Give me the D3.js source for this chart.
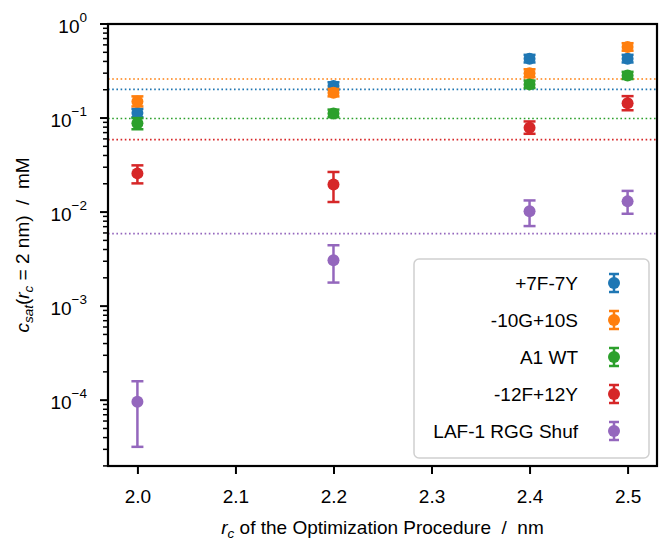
<!DOCTYPE html>
<html>
<head>
<meta charset="utf-8">
<script src="https://cdnjs.cloudflare.com/ajax/libs/d3/7.8.5/d3.min.js"></script>
<style>
body { margin:0; background:#fff; }
svg text { font-family: "Liberation Sans", Arial, sans-serif; fill:#000; white-space: pre; }
</style>
</head>
<body>
<svg id="graph"></svg>
<script>
// r_c values used in the optimization
var rcValues = [2.0, 2.2, 2.4, 2.5];

var seriesNames = ["+7F-7Y", "-10G+10S", "A1 WT", "-12F+12Y", "LAF-1 RGG Shuf"];
var seriesColors = ["#1f77b4", "#ff7f0e", "#2ca02c", "#d62728", "#9467bd"];

// csat values (mM), one array per sequence
var csat7F = [0.113, 0.219, 0.428, 0.428];
var csat10G = [0.150, 0.186, 0.300, 0.570];
var csatWT = [0.088, 0.112, 0.228, 0.284];
var csat12F = [0.0258, 0.0197, 0.079, 0.144];
var csatLAF = [0.000096, 0.00308, 0.0102, 0.0130];

// lower / upper ends of error bars
var low7F = [0.102, 0.200, 0.390, 0.390];
var high7F = [0.125, 0.240, 0.470, 0.470];
var low10G = [0.133, 0.170, 0.272, 0.520];
var high10G = [0.170, 0.204, 0.330, 0.625];
var lowWT = [0.076, 0.102, 0.208, 0.260];
var highWT = [0.100, 0.123, 0.250, 0.310];
var low12F = [0.0202, 0.0128, 0.068, 0.121];
var high12F = [0.0314, 0.0267, 0.092, 0.171];
var lowLAF = [0.0000319, 0.00178, 0.0071, 0.0096];
var highLAF = [0.000159, 0.00444, 0.0133, 0.0168];

// reference csat (dotted lines)
var refCsat = [0.202, 0.26, 0.099, 0.059, 0.0059];

var xTicks = [2.0, 2.1, 2.2, 2.3, 2.4, 2.5];
var yTickExps = [0, -1, -2, -3, -4];

var allValues = [csat7F, csat10G, csatWT, csat12F, csatLAF];
var allLow = [low7F, low10G, lowWT, low12F, lowLAF];
var allHigh = [high7F, high10G, highWT, high12F, highLAF];

var fontSize = 19;

var screen = {width:672, height:551};
var margins = {top:24, bottom:85, left:108, right:15};
var graph = {
    width:screen.width-margins.left-margins.right,
    height:screen.height-margins.top-margins.bottom
};

var svg = d3.select("#graph")
    .attr("width",screen.width)
    .attr("height",screen.height);

var xScale = d3.scaleLinear()
    .domain([1.97,2.53])
    .range([0,graph.width]);

var yScale = d3.scaleLog()
    .domain([Math.pow(10,-4.70),1])
    .range([graph.height,0]);

var g = svg.append("g")
    .attr("transform","translate("+margins.left+","+margins.top+")");

g.append("defs").append("clipPath").attr("id","clip")
    .append("rect").attr("width",graph.width).attr("height",graph.height);

// dotted reference lines
g.append("g").attr("clip-path","url(#clip)")
    .selectAll("line")
    .data(refCsat)
    .enter()
    .append("line")
    .attr("x1",0)
    .attr("x2",graph.width)
    .attr("y1",function(d){ return yScale(d); })
    .attr("y2",function(d){ return yScale(d); })
    .attr("stroke",function(d,i){ return seriesColors[i]; })
    .attr("stroke-width",1.6)
    .attr("stroke-dasharray","1.6,2.6");

// series
allValues.forEach(function(vals,si)
{
    var pts = rcValues.map(function(rc,i){
        return {x:rc, y:vals[i], lo:allLow[si][i], hi:allHigh[si][i]};
    });
    var sg = g.append("g").attr("fill",seriesColors[si]).attr("stroke",seriesColors[si]);
    var eb = sg.selectAll("g.err").data(pts).enter().append("g");
    eb.append("line")
        .attr("x1",function(d){ return xScale(d.x); })
        .attr("x2",function(d){ return xScale(d.x); })
        .attr("y1",function(d){ return yScale(d.lo); })
        .attr("y2",function(d){ return yScale(d.hi); })
        .attr("stroke-width",2.5);
    eb.append("line")
        .attr("x1",function(d){ return xScale(d.x)-6; })
        .attr("x2",function(d){ return xScale(d.x)+6; })
        .attr("y1",function(d){ return yScale(d.lo); })
        .attr("y2",function(d){ return yScale(d.lo); })
        .attr("stroke-width",2.5);
    eb.append("line")
        .attr("x1",function(d){ return xScale(d.x)-6; })
        .attr("x2",function(d){ return xScale(d.x)+6; })
        .attr("y1",function(d){ return yScale(d.hi); })
        .attr("y2",function(d){ return yScale(d.hi); })
        .attr("stroke-width",2.5);
    sg.selectAll("circle").data(pts).enter().append("circle")
        .attr("cx",function(d){ return xScale(d.x); })
        .attr("cy",function(d){ return yScale(d.y); })
        .attr("r",6)
        .attr("stroke","none");
});

// axes
var xAxis = d3.axisBottom(xScale)
    .tickValues(xTicks)
    .tickFormat(d3.format(".1f"))
    .tickSize(8)
    .tickPadding(16);

var xg = g.append("g")
    .attr("transform","translate(0,"+graph.height+")")
    .call(xAxis);
xg.select(".domain").remove();
xg.selectAll(".tick line").attr("stroke-width",2);
xg.selectAll(".tick text").attr("font-size",fontSize).attr("font-family","Liberation Sans, Arial, sans-serif");

// log minor ticks
var minorTicks = [];
yScale.ticks().forEach(function(t){ minorTicks.push(t); });
var yg = g.append("g");
yg.selectAll("line.minor")
    .data(minorTicks.filter(function(t){
        var e = Math.log10(t);
        return Math.abs(e-Math.round(e))>1e-6;
    }))
    .enter().append("line")
    .attr("x1",0).attr("x2",-5)
    .attr("y1",function(d){ return yScale(d); })
    .attr("y2",function(d){ return yScale(d); })
    .attr("stroke","#000").attr("stroke-width",1.5);

yg.selectAll("line.major")
    .data(yTickExps).enter().append("line")
    .attr("x1",0).attr("x2",-8)
    .attr("y1",function(d){ return yScale(Math.pow(10,d)); })
    .attr("y2",function(d){ return yScale(Math.pow(10,d)); })
    .attr("stroke","#000").attr("stroke-width",2);

var ylab = yg.selectAll("text.ytick")
    .data(yTickExps).enter().append("text")
    .attr("x",-21)
    .attr("y",function(d){ return yScale(Math.pow(10,d))+9; })
    .attr("text-anchor","end")
    .attr("font-size",fontSize);
ylab.append("tspan").text("10");
ylab.append("tspan")
    .attr("dy",-11)
    .attr("font-size",13.5)
    .text(function(d){ return d===0 ? "0" : "\u2212"+Math.abs(d); });

// frame
g.append("rect")
    .attr("width",graph.width)
    .attr("height",graph.height)
    .attr("fill","none")
    .attr("stroke","#000")
    .attr("stroke-width",2.2);

// legend
var legend = g.append("g")
    .attr("transform","translate("+(414-margins.left)+","+(259-margins.top)+")");
legend.append("rect")
    .attr("width",235)
    .attr("height",199)
    .attr("rx",5)
    .attr("fill","#fff")
    .attr("fill-opacity",0.8)
    .attr("stroke","#d0d0d0")
    .attr("stroke-width",1.5);

var rows = legend.selectAll("g.row")
    .data(seriesNames)
    .enter().append("g")
    .attr("transform",function(d,i){ return "translate(0,"+(24+i*37)+")"; });
rows.append("text")
    .attr("x",164)
    .attr("y",7)
    .attr("text-anchor","end")
    .attr("font-size",fontSize)
    .text(function(d){ return d; });
rows.each(function(d,i){
    var r = d3.select(this);
    var c = seriesColors[i];
    r.append("line").attr("x1",200).attr("x2",200).attr("y1",-9).attr("y2",9).attr("stroke",c).attr("stroke-width",2.5);
    r.append("line").attr("x1",195).attr("x2",205).attr("y1",-9).attr("y2",-9).attr("stroke",c).attr("stroke-width",2.5);
    r.append("line").attr("x1",195).attr("x2",205).attr("y1",9).attr("y2",9).attr("stroke",c).attr("stroke-width",2.5);
    r.append("circle").attr("cx",200).attr("cy",0).attr("r",6).attr("fill",c);
});

// axis titles
var xt = svg.append("text")
    .attr("x",margins.left+graph.width/2)
    .attr("y",534)
    .attr("text-anchor","middle")
    .attr("font-size",fontSize);
xt.append("tspan").attr("font-style","italic").text("r");
xt.append("tspan").attr("font-style","italic").attr("font-size",13.5).attr("dy",4).text("c");
xt.append("tspan").attr("dy",-4).text(" of the Optimization Procedure  /  nm");

var yt = svg.append("text")
    .attr("transform","translate(29,"+(margins.top+graph.height/2)+") rotate(-90)")
    .attr("text-anchor","middle")
    .attr("font-size",fontSize);
yt.append("tspan").attr("font-style","italic").text("c");
yt.append("tspan").attr("font-style","italic").attr("font-size",13.5).attr("dy",4).text("sat");
yt.append("tspan").attr("dy",-4).text("(");
yt.append("tspan").attr("font-style","italic").text("r");
yt.append("tspan").attr("font-style","italic").attr("font-size",13.5).attr("dy",4).text("c");
yt.append("tspan").attr("dy",-4).text(" = 2 nm)  /  mM");
</script>
</body>
</html>
